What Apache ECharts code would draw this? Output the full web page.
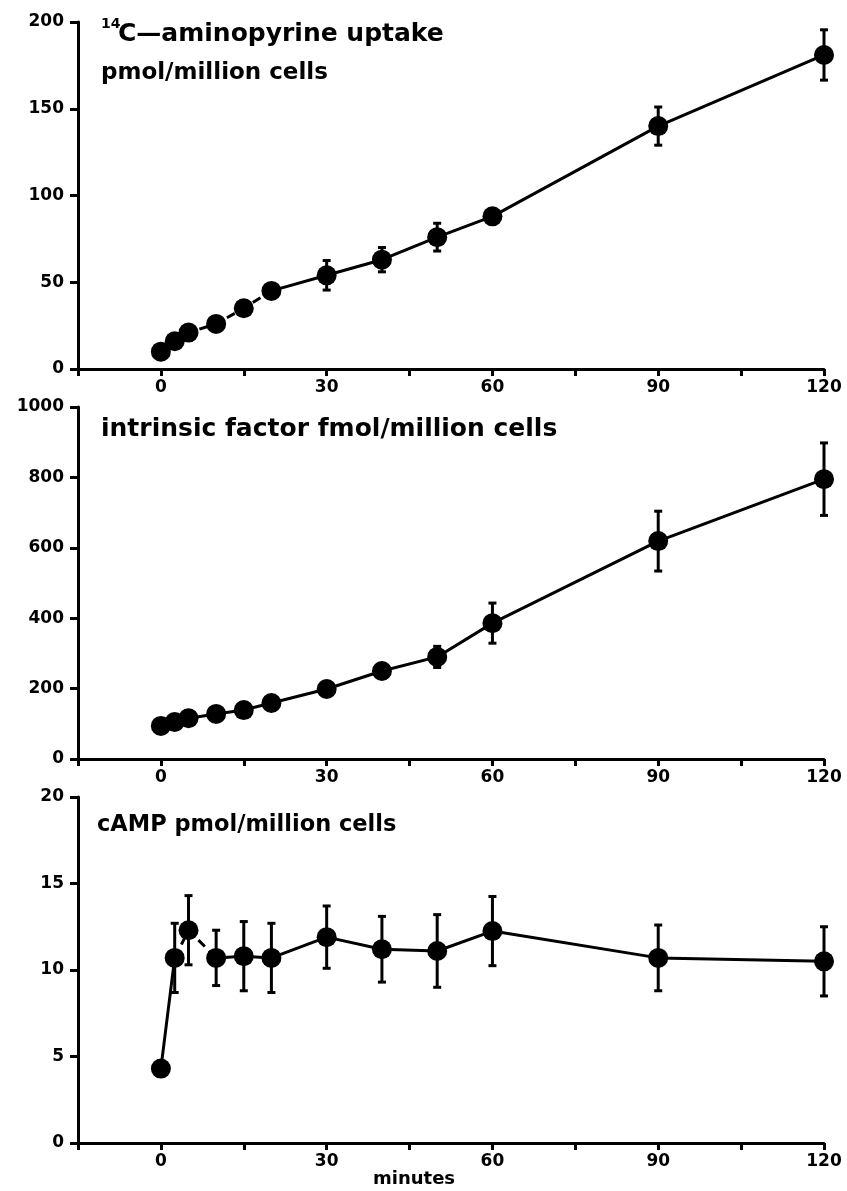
<!DOCTYPE html>
<html lang="en">
<head>
<meta charset="UTF-8">
<title>uptake time course</title>
<script src="https://cdn.jsdelivr.net/npm/echarts@6/dist/echarts.min.js"></script>
<style>
  body { margin: 0; background: #fff; }
  #main { width: 847px; height: 1191px; }
</style>
</head>
<body>
<div id="main"></div>
<script>
  // time points (minutes)
  var minutes = [0, 2.5, 5, 10, 15, 20, 30, 40, 50, 60, 90, 120];
  var xTicks = [0, 30, 60, 90, 120];

  // 14C-aminopyrine uptake, pmol/million cells
  var aminopyrine = [10, 16, 21, 26, 35, 45, 54, 63, 76, 88, 140, 181];
  var aminopyrineErr = [0, 0, 0, 0, 0, 0, 8.5, 7, 8, 0, 11, 14.5];

  // intrinsic factor, fmol/million cells
  var intrinsic = [94, 105, 116, 128, 139, 159, 199, 250, 290, 386, 619, 795];
  var intrinsicErr = [0, 0, 0, 0, 0, 0, 0, 0, 30, 57, 85, 103];

  // cAMP, pmol/million cells
  var camp = [4.3, 10.7, 12.3, 10.7, 10.8, 10.7, 11.9, 11.2, 11.1, 12.25, 10.7, 10.5];
  var campErr = [0, 2.0, 2.0, 1.6, 2.0, 2.0, 1.8, 1.9, 2.1, 2.0, 1.9, 2.0];

  var FONT = 'DejaVu Sans';
  var myChart = echarts.init(document.getElementById('main'));

  function pts(ys, from, to) {
    var out = [];
    for (var i = from; i <= to; i++) out.push([minutes[i], ys[i]]);
    return out;
  }
  function errPts(ys, es) {
    var out = [];
    for (var i = 0; i < minutes.length; i++) {
      if (es[i] > 0) out.push([minutes[i], ys[i], es[i]]);
    }
    return out;
  }

  function xAxis(idx) {
    return {
      gridIndex: idx, type: 'value', min: -15, max: 120, interval: 15,
      axisLine: { show: true, onZero: false, lineStyle: { color: '#000', width: 3 } },
      axisTick: { show: true, length: 7, lineStyle: { color: '#000', width: 3 } },
      splitLine: { show: false },
      axisLabel: {
        color: '#000', fontSize: 17, fontWeight: 'bold', fontFamily: FONT, margin: 10,
        formatter: function (v) { return xTicks.indexOf(v) >= 0 ? String(v) : ''; }
      }
    };
  }
  function yAxis(idx, max, step) {
    return {
      gridIndex: idx, type: 'value', min: 0, max: max, interval: step,
      axisLine: { show: true, onZero: false, lineStyle: { color: '#000', width: 3 } },
      axisTick: { show: true, length: 8, lineStyle: { color: '#000', width: 3 } },
      splitLine: { show: false },
      axisLabel: {
        color: '#000', fontSize: 17, fontWeight: 'bold', fontFamily: FONT, margin: 14,
        formatter: function (v) { return String(v); }
      }
    };
  }

  function lineSeg(idx, data, dashed) {
    return {
      type: 'line', xAxisIndex: idx, yAxisIndex: idx, data: data,
      symbol: 'none', silent: true, z: 2,
      lineStyle: { color: '#000', width: 3, type: dashed ? [9, 6] : 'solid' }
    };
  }
  function dots(idx, ys) {
    return {
      type: 'scatter', xAxisIndex: idx, yAxisIndex: idx, data: pts(ys, 0, minutes.length - 1),
      symbol: 'circle', symbolSize: 20, z: 4,
      itemStyle: { color: '#000', opacity: 1 }
    };
  }
  function errorBars(idx, ys, es) {
    return {
      type: 'custom', xAxisIndex: idx, yAxisIndex: idx, z: 3,
      data: errPts(ys, es),
      encode: { x: 0, y: 1 },
      renderItem: function (params, api) {
        var x = api.value(0), y = api.value(1), e = api.value(2);
        var top = api.coord([x, y + e]);
        var bot = api.coord([x, y - e]);
        var cap = 4;
        var st = { stroke: '#000', lineWidth: 3 };
        return {
          type: 'group',
          children: [
            { type: 'line', shape: { x1: top[0], y1: top[1], x2: bot[0], y2: bot[1] }, style: st },
            { type: 'line', shape: { x1: top[0] - cap, y1: top[1], x2: top[0] + cap, y2: top[1] }, style: st },
            { type: 'line', shape: { x1: bot[0] - cap, y1: bot[1], x2: bot[0] + cap, y2: bot[1] }, style: st }
          ]
        };
      }
    };
  }

  function label(x, y, text, size) {
    return {
      type: 'text', left: x, top: y,
      style: { text: text, fill: '#000', font: 'bold ' + size + 'px "' + FONT + '"' }
    };
  }

  var option = {
    animation: false,
    backgroundColor: '#fff',
    grid: [
      { left: 78, right: 23, top: 22, height: 347 },
      { left: 78, right: 23, top: 407, height: 352 },
      { left: 78, right: 23, top: 797, height: 346 }
    ],
    xAxis: [xAxis(0), xAxis(1), xAxis(2)],
    yAxis: [yAxis(0, 200, 50), yAxis(1, 1000, 200), yAxis(2, 20, 5)],
    graphic: [
      label(101, 17, '14', 14),
      label(118, 22, 'C\u2014aminopyrine uptake', 25),
      label(101, 62, 'pmol/million cells', 23),
      label(101, 417, 'intrinsic factor fmol/million cells', 25),
      label(97, 814, 'cAMP pmol/million cells', 22.5),
      {
        type: 'text', left: 373, top: 1170,
        style: { text: 'minutes', fill: '#000', font: 'bold 18px "' + FONT + '"' }
      }
    ],
    series: [
      lineSeg(0, pts(aminopyrine, 0, 5), true),
      lineSeg(0, pts(aminopyrine, 5, 11), false),
      errorBars(0, aminopyrine, aminopyrineErr),
      dots(0, aminopyrine),

      lineSeg(1, pts(intrinsic, 0, 11), false),
      errorBars(1, intrinsic, intrinsicErr),
      dots(1, intrinsic),

      lineSeg(2, pts(camp, 0, 1), false),
      lineSeg(2, pts(camp, 1, 3), true),
      lineSeg(2, pts(camp, 3, 11), false),
      errorBars(2, camp, campErr),
      dots(2, camp)
    ]
  };

  myChart.setOption(option);
</script>
</body>
</html>
